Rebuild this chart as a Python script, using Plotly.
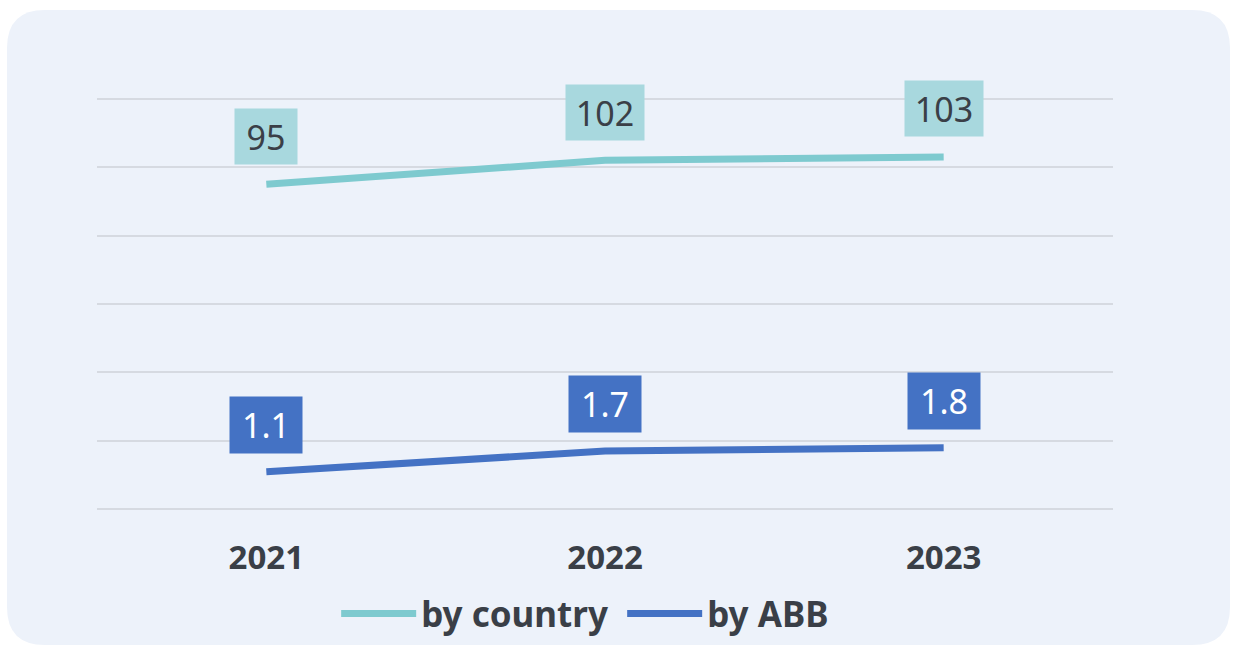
import plotly.graph_objects as go

years = ["2021", "2022", "2023"]
by_country = [95, 102, 103]
by_abb = [1.1, 1.7, 1.8]
country_labels = ["95", "102", "103"]
abb_labels = ["1.1", "1.7", "1.8"]

TEAL_LINE = "#7ECACF"
TEAL_BOX = "#A8D8DE"
BLUE = "#4472C4"
TEXT = "#3A3F47"
FONT = "Noto Sans"

W, H = 1233, 648
L, R, T, B = 97, 120, 97, 137
PW, PH = W - L - R, H - T - B

fig = go.Figure()
fig.add_trace(go.Scatter(x=years, y=by_country, mode="lines", name="by country",
                         line=dict(color=TEAL_LINE, width=7), yaxis="y"))
fig.add_trace(go.Scatter(x=years, y=by_abb, mode="lines", name="by ABB",
                         line=dict(color=BLUE, width=7), yaxis="y2"))

# category axis: annotations use category index positions
for i, (v, t) in enumerate(zip(by_country, country_labels)):
    fig.add_annotation(x=i, y=v, xref="x", yref="y", text=t, showarrow=False,
                       yshift=48, bgcolor=TEAL_BOX, borderpad=0,
                       width=62 if len(t) < 3 else 78, height=55,
                       font=dict(family=FONT, size=34, color=TEXT))
for i, (v, t) in enumerate(zip(by_abb, abb_labels)):
    fig.add_annotation(x=i, y=v, xref="x", yref="y2", text=t, showarrow=False,
                       yshift=47, bgcolor=BLUE, borderpad=0,
                       width=72, height=56,
                       font=dict(family=FONT, size=34, color="white"))

# rounded background panel (pixel box converted to paper coordinates)
def px(x): return (x - L) / PW
def py(y): return (H - B - y) / PH
x0, y0, x1, y1, r = 7, 10, 1230, 645, 38
pts = dict(
    a=(px(x0 + r), py(y0)), b=(px(x1 - r), py(y0)), c=(px(x1), py(y0)), d=(px(x1), py(y0 + r)),
    e=(px(x1), py(y1 - r)), f=(px(x1), py(y1)), g=(px(x1 - r), py(y1)), h=(px(x0 + r), py(y1)),
    i=(px(x0), py(y1)), j=(px(x0), py(y1 - r)), k=(px(x0), py(y0 + r)), l=(px(x0), py(y0)),
)
def s(p): return f"{p[0]:.5f},{p[1]:.5f}"
path = (f"M {s(pts['a'])} L {s(pts['b'])} Q {s(pts['c'])} {s(pts['d'])} "
        f"L {s(pts['e'])} Q {s(pts['f'])} {s(pts['g'])} L {s(pts['h'])} "
        f"Q {s(pts['i'])} {s(pts['j'])} L {s(pts['k'])} Q {s(pts['l'])} {s(pts['a'])} Z")
fig.add_shape(type="path", path=path, xref="paper", yref="paper",
              fillcolor="#EDF2FA", line=dict(width=0), layer="below")

fig.update_layout(
    width=W, height=H,
    margin=dict(l=L, r=R, t=T, b=B, autoexpand=False),
    paper_bgcolor="white", plot_bgcolor="rgba(0,0,0,0)",
    showlegend=True,
    legend=dict(orientation="h", xref="container", yref="container",
                x=0.5046, y=0.053, xanchor="center", yanchor="middle",
                itemwidth=75, entrywidth=196, bgcolor="rgba(0,0,0,0)",
                font=dict(family=FONT, size=35, color=TEXT, weight="bold")),
    xaxis=dict(type="category", range=[-0.5, 2.5], showgrid=False, zeroline=False,
               showline=False, ticks="", ticklabelstandoff=24, automargin=False,
               tickfont=dict(family=FONT, size=33, color=TEXT, weight="bold")),
    yaxis=dict(range=[-0.5, 120.5], tickvals=[0, 20, 40, 60, 80, 100, 120],
               showticklabels=False, gridcolor="#D6DAE1", gridwidth=2,
               zeroline=False, showline=False, automargin=False),
    yaxis2=dict(range=[-0.05, 12.05], overlaying="y", showgrid=False,
                showticklabels=False, zeroline=False, showline=False, automargin=False),
)

fig.write_html("out.html", config={"displayModeBar": False},
               post_script="document.body.style.margin='0';")
